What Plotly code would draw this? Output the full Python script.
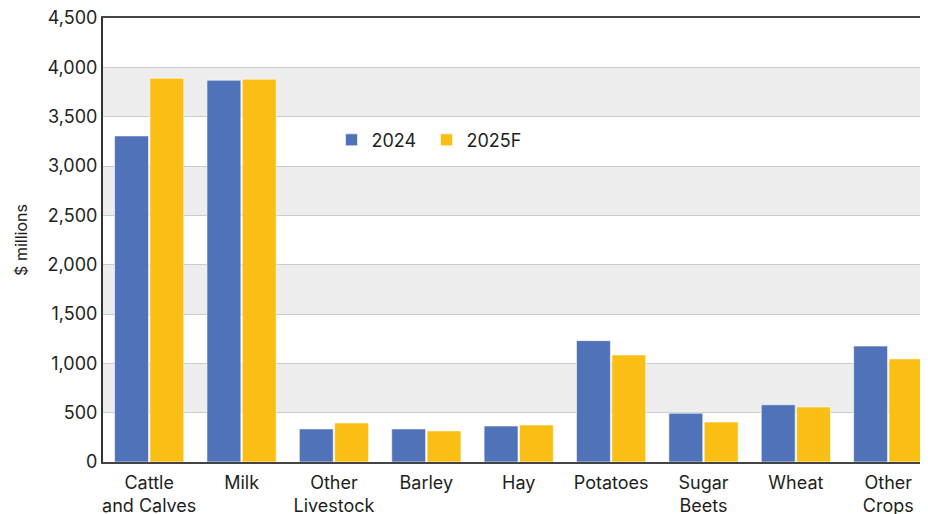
import plotly.graph_objects as go

categories = ["Cattle<br>and Calves", "Milk", "Other<br>Livestock", "Barley", "Hay",
              "Potatoes", "Sugar<br>Beets", "Wheat", "Other<br>Crops"]
values_2024 = [3305, 3870, 335, 335, 365, 1230, 495, 580, 1175]
values_2025f = [3890, 3880, 395, 315, 375, 1085, 405, 558, 1045]
y_ticks = [0, 500, 1000, 1500, 2000, 2500, 3000, 3500, 4000, 4500]
y_tick_labels = ["0", "500", "1,000", "1,500", "2,000", "2,500", "3,000", "3,500", "4,000", "4,500"]

BLUE = "#4F72B8"
GOLD = "#FBBE14"
FONT = "Inter, Roboto, sans-serif"

fig = go.Figure()
fig.add_trace(go.Bar(name="2024", x=categories, y=values_2024, marker_color=BLUE,
                     marker_line=dict(color="rgba(255,255,255,0.6)", width=1)))
fig.add_trace(go.Bar(name="2025F", x=categories, y=values_2025f, marker_color=GOLD,
                     marker_line=dict(color="rgba(255,255,255,0.6)", width=1)))

# alternating background bands
for lo, hi in zip(y_ticks[1::2], y_ticks[2::2]):
    fig.add_shape(type="rect", xref="paper", yref="y", x0=0, x1=1, y0=lo, y1=hi,
                  fillcolor="#EDEDED", line_width=0, layer="below")

# page body has an 8px default margin, so the figure is sized/offset to compensate;
# the reference's plot area runs past the right edge, so the x range is cut short
fig.update_layout(
    width=920, height=506,
    margin=dict(l=95, r=0, t=10, b=52),
    paper_bgcolor="white", plot_bgcolor="white",
    barmode="group", bargap=0.235, bargroupgap=0.04,
    font=dict(family=FONT, size=18, color="#231F20"),
    legend=dict(orientation="h", x=0.277, y=0.725, xanchor="left", yanchor="middle",
                bgcolor="rgba(0,0,0,0)", font=dict(size=18),
                entrywidth=50, entrywidthmode="pixels",
                traceorder="normal"),
    xaxis=dict(showline=True, linecolor="#444", linewidth=2, mirror=True,
               range=[-0.5, 8.43],
               ticks="", tickfont=dict(size=18), automargin=False,
               ticklabelstandoff=3),
    yaxis=dict(range=[0, 4500], tickvals=y_ticks, ticktext=y_tick_labels,
               showgrid=True, gridcolor="#CCCCCC", gridwidth=1,
               showline=True, linecolor="#333", linewidth=2,
               zeroline=False, ticks="", ticklen=0, ticklabelstandoff=0,
               ticklabeloverflow="allow",
               automargin=False,
               title=dict(text="$ millions", font=dict(size=16), standoff=16),
               tickfont=dict(size=18)),
)

fig.write_html("out.html")
